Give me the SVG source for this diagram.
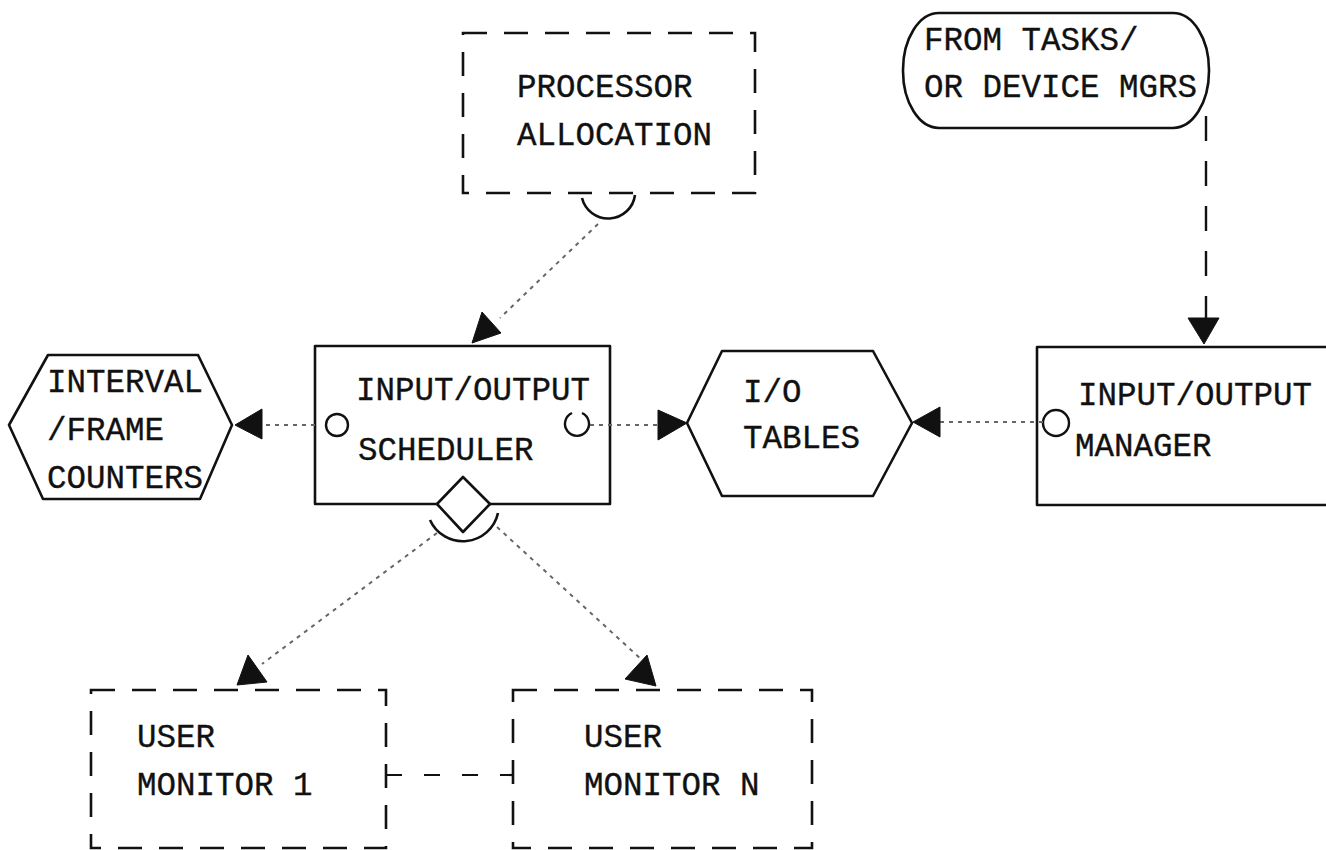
<svg xmlns="http://www.w3.org/2000/svg" width="1326" height="850" viewBox="0 0 1326 850">
  <style>
    .solid { fill: #fff; stroke: #111; stroke-width: 2.6; stroke-linejoin: round; }
    .dashed { fill: none; stroke: #111; stroke-width: 2.6; stroke-dasharray: 24 17; }
    .label { font-family: "Liberation Mono", "Courier New", monospace; font-size: 32.5px; fill: #111; stroke: #111; stroke-width: 0.35; }
    .port { fill: #fff; stroke: #111; stroke-width: 2.4; }
    .flow { fill: none; stroke: #666; stroke-width: 2; stroke-dasharray: 4 5; }
    .head { fill: #111; stroke: #111; stroke-width: 1; stroke-linejoin: round; }
  </style>
  <rect width="1326" height="850" fill="#fff"/>

  <!-- Processor allocation (dashed module) -->
  <g id="processor-allocation">
    <rect class="dashed" x="463" y="33" width="292" height="160"/>
    <path d="M 582 198 A 27 27 0 0 0 635 195" fill="none" stroke="#111" stroke-width="2.6"/>
    <text class="label" x="517" y="97">PROCESSOR</text>
    <text class="label" x="517" y="145">ALLOCATION</text>
  </g>

  <!-- External source terminator -->
  <g id="from-tasks">
    <rect class="solid" x="903" y="13" width="306" height="115" rx="36" ry="57"/>
    <text class="label" x="924" y="50">FROM TASKS/</text>
    <text class="label" x="924" y="97">OR DEVICE MGRS</text>
  </g>

  <!-- Interval / frame counters data store -->
  <g id="interval-frame-counters">
    <polygon class="solid" points="9,425 48,355 198,355 232,425 200,499 43,499"/>
    <text class="label" x="47" y="392">INTERVAL</text>
    <text class="label" x="47" y="440">/FRAME</text>
    <text class="label" x="47" y="488">COUNTERS</text>
  </g>

  <!-- I/O scheduler module -->
  <g id="io-scheduler">
    <rect class="solid" x="315" y="346" width="295" height="158"/>
    <circle class="port" cx="337" cy="425" r="11"/>
    <path class="port" d="M 582 413 A 12 12 0 1 1 572 413" fill="none"/>
    <polygon class="solid" points="463,477 490,504 463,532 437,504"/>
    <path d="M 430 520 A 36 36 0 0 0 498 513" fill="none" stroke="#111" stroke-width="2.6"/>
    <text class="label" x="356" y="400">INPUT/OUTPUT</text>
    <text class="label" x="358" y="460">SCHEDULER</text>
  </g>

  <!-- I/O tables data store -->
  <g id="io-tables">
    <polygon class="solid" points="687,423 722,351 873,351 912,423 873,496 722,496"/>
    <text class="label" x="743" y="402">I/O</text>
    <text class="label" x="743" y="448">TABLES</text>
  </g>

  <!-- I/O manager module -->
  <g id="io-manager">
    <rect class="solid" x="1037" y="347" width="310" height="158"/>
    <circle class="port" cx="1056" cy="423" r="13"/>
    <text class="label" x="1078" y="405">INPUT/OUTPUT</text>
    <text class="label" x="1075" y="456">MANAGER</text>
  </g>

  <!-- User monitors (dashed modules) -->
  <g id="user-monitor-1">
    <rect class="dashed" x="91" y="690" width="295" height="158"/>
    <text class="label" x="137" y="747">USER</text>
    <text class="label" x="137" y="795">MONITOR 1</text>
  </g>
  <g id="user-monitor-n">
    <rect class="dashed" x="513" y="690" width="299" height="158"/>
    <text class="label" x="584" y="747">USER</text>
    <text class="label" x="584" y="795">MONITOR N</text>
  </g>

  <!-- Connectors -->
  <g id="connectors">
    <!-- processor allocation -> scheduler -->
    <line class="flow" x1="598" y1="224" x2="500" y2="318"/>
    <polygon class="head" points="472,343 482,312 501,333"/>

    <!-- external source -> I/O manager -->
    <line x1="1206" y1="116" x2="1206" y2="318" stroke="#111" stroke-width="2.4" stroke-dasharray="25 20"/>
    <polygon class="head" points="1188,318 1219,318 1204,344"/>

    <!-- scheduler -> interval/frame counters -->
    <line class="flow" x1="315" y1="425" x2="262" y2="425"/>
    <polygon class="head" points="235,425 262,409 262,439"/>

    <!-- scheduler -> I/O tables -->
    <line class="flow" x1="590" y1="425" x2="658" y2="425"/>
    <polygon class="head" points="658,410 658,440 687,423"/>

    <!-- I/O manager -> I/O tables -->
    <line class="flow" x1="1043" y1="422" x2="940" y2="422"/>
    <polygon class="head" points="913,422 940,407 940,437"/>

    <!-- scheduler -> user monitor 1 -->
    <line class="flow" x1="437" y1="533" x2="262" y2="664"/>
    <polygon class="head" points="237,685 248,655 267,682"/>

    <!-- scheduler -> user monitor N -->
    <line class="flow" x1="497" y1="527" x2="642" y2="660"/>
    <polygon class="head" points="625,679 647,655 656,686"/>

    <!-- link between monitors -->
    <line x1="386" y1="775" x2="513" y2="775" stroke="#111" stroke-width="2.2" stroke-dasharray="16 22"/>
  </g>
</svg>
